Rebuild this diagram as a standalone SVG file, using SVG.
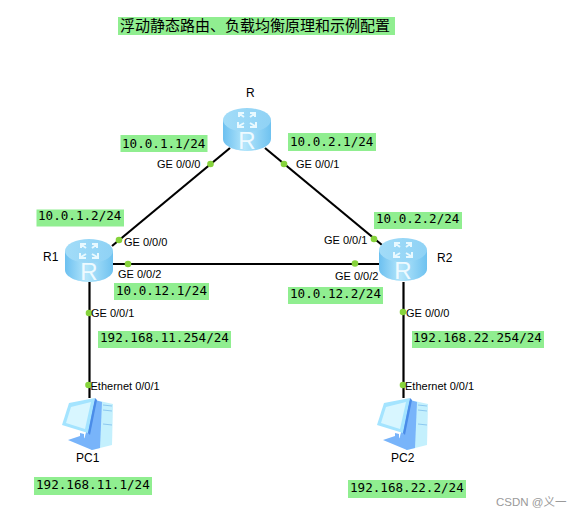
<svg xmlns="http://www.w3.org/2000/svg" xmlns:xlink="http://www.w3.org/1999/xlink" width="579" height="517" viewBox="0 0 579 517">
<style>
.bg{fill:#90ee90}
.ip{font-family:"DejaVu Sans Mono","Liberation Mono",monospace;font-size:12.6px;fill:#000}
.pt{font-family:"Liberation Sans",Arial,sans-serif;font-size:11px;fill:#000}
.nm{font-family:"Liberation Sans",Arial,sans-serif;font-size:12px;fill:#000}
.ln{stroke:#000;stroke-width:2.2;fill:none}
.dot{fill:#86d33c}
</style>
<defs>
<linearGradient id="rb" x1="0" x2="1" y1="0" y2="0"><stop offset="0" stop-color="#6cc0f0"/><stop offset=".45" stop-color="#b4e6fb"/><stop offset="1" stop-color="#6fc2f0"/></linearGradient>
<linearGradient id="rt" x1="0" x2="1" y1="0" y2="0"><stop offset="0" stop-color="#a2dcf8"/><stop offset="1" stop-color="#8fd2f5"/></linearGradient>
<g id="router">
<path d="M-24-10V9C-24 16-12 21 0 21S24 16 24 9V-10Z" fill="url(#rb)"/>
<ellipse cx="0" cy="-10" rx="24" ry="12" fill="url(#rt)"/>
<path d="M-3-13L-7-16M-8-13L-8-17L-3-17M3-13L7-16M3-17L8-17L8-13M-3-7L-8-4M-9-8L-9-3L-3-3M3-7L8-4M3-3L9-3L9-8" stroke="#e8f9ff" stroke-width="2" fill="none"/>
<text x="0" y="19" text-anchor="middle" font-family="Liberation Sans,sans-serif" font-size="24" fill="#eefaff">R</text>
</g>
<g id="pc">
<path d="M95 400L113 404L112 445L92 450L84 440Z" fill="#c4f0fd"/>
<path d="M95 400L102 402L100 448L92 450L84 440Z" fill="#78b4fa"/>
<path d="M103 405L112 406M103 410L112 411M103 424L112 425" stroke="#8cc8f0" fill="none"/>
<path d="M68 440L80 436V433L84 434V438L92 441V450Z" fill="#78b4fa"/>
<path d="M69 403L95 398L88 433L62 425Z" fill="#a4e4ff"/>
<path d="M71 407L91 402L85 429L66 423Z" fill="#d8f6ff"/>
<path d="M95 398L97 400L90 435L88 433Z" fill="#4a8ce8"/>
</g>
</defs>
<rect width="579" height="517" fill="#fff"/>
<g id="connectors">
<line class="ln" x1="230" y1="148" x2="112" y2="246"/>
<line class="ln" x1="265" y1="148" x2="382" y2="245"/>
<line class="ln" x1="113" y1="264" x2="379" y2="264"/>
<line class="ln" x1="89.500" y1="282" x2="89.500" y2="398"/>
<line class="ln" x1="403.500" y1="282" x2="403.500" y2="398"/>
</g>
<g id="router-r"><use xlink:href="#router" x="247" y="130"/><text class="nm" x="246" y="97">R</text></g>
<g id="router-r1"><use xlink:href="#router" x="89" y="261"/><text class="nm" x="43" y="261">R1</text></g>
<g id="router-r2"><use xlink:href="#router" x="403" y="260"/><text class="nm" x="437" y="262">R2</text></g>
<g id="pc1"><use xlink:href="#pc"/><text class="nm" x="76" y="462">PC1</text></g>
<g id="pc2"><use xlink:href="#pc" x="315"/><text class="nm" x="391" y="462">PC2</text></g>
<g id="ports">
<circle class="dot" cx="210.500" cy="164" r="3.300"/><circle class="dot" cx="284" cy="164" r="3.300"/>
<circle class="dot" cx="119" cy="240" r="3.300"/><circle class="dot" cx="128" cy="264" r="3.300"/>
<circle class="dot" cx="374" cy="239" r="3.300"/><circle class="dot" cx="355" cy="263.500" r="3.300"/>
<circle class="dot" cx="89" cy="313" r="3.300"/><circle class="dot" cx="403" cy="312" r="3.300"/>
<circle class="dot" cx="88.500" cy="385" r="3.300"/><circle class="dot" cx="403" cy="385" r="3.300"/>
<text class="pt" x="157" y="168">GE 0/0/0</text><text class="pt" x="296" y="168">GE 0/0/1</text>
<text class="pt" x="124" y="246">GE 0/0/0</text><text class="pt" x="118" y="278">GE 0/0/2</text>
<text class="pt" x="324" y="244">GE 0/0/1</text><text class="pt" x="335" y="280">GE 0/0/2</text>
<text class="pt" x="91" y="317">GE 0/0/1</text><text class="pt" x="406" y="317">GE 0/0/0</text>
<text class="pt" x="90.500" y="390">Ethernet 0/0/1</text><text class="pt" x="405" y="390">Ethernet 0/0/1</text>
</g>
<g id="title"><rect class="bg" x="118" y="17" width="277" height="18"/><text x="120" y="31" font-family="Noto Sans CJK SC,sans-serif" font-size="15" fill="#000">浮动静态路由、负载均衡原理和示例配置</text></g>
<g id="ip-labels">
<rect class="bg" x="120.500" y="135" width="87" height="17"/><text class="ip" x="122" y="147.500">10.0.1.1/24</text>
<rect class="bg" x="288" y="133" width="88" height="18"/><text class="ip" x="290" y="145.500">10.0.2.1/24</text>
<rect class="bg" x="36.500" y="209.500" width="87.500" height="17"/><text class="ip" x="38" y="220">10.0.1.2/24</text>
<rect class="bg" x="374" y="212" width="88" height="17"/><text class="ip" x="376" y="223">10.0.2.2/24</text>
<rect class="bg" x="114" y="283" width="95" height="17"/><text class="ip" x="116" y="295">10.0.12.1/24</text>
<rect class="bg" x="288" y="287" width="95" height="17"/><text class="ip" x="290" y="298">10.0.12.2/24</text>
<rect class="bg" x="98" y="331" width="133" height="17"/><text class="ip" x="100" y="342">192.168.11.254/24</text>
<rect class="bg" x="412" y="331" width="132" height="17"/><text class="ip" x="413" y="342">192.168.22.254/24</text>
<rect class="bg" x="34" y="477" width="118" height="18"/><text class="ip" x="36" y="489">192.168.11.1/24</text>
<rect class="bg" x="348" y="480" width="118" height="18"/><text class="ip" x="350" y="492">192.168.22.2/24</text>
</g>
<text x="496" y="506" font-family="Liberation Sans,Noto Sans CJK SC,sans-serif" font-size="11.500" fill="#9a9a9a">CSDN @义一</text>
</svg>
